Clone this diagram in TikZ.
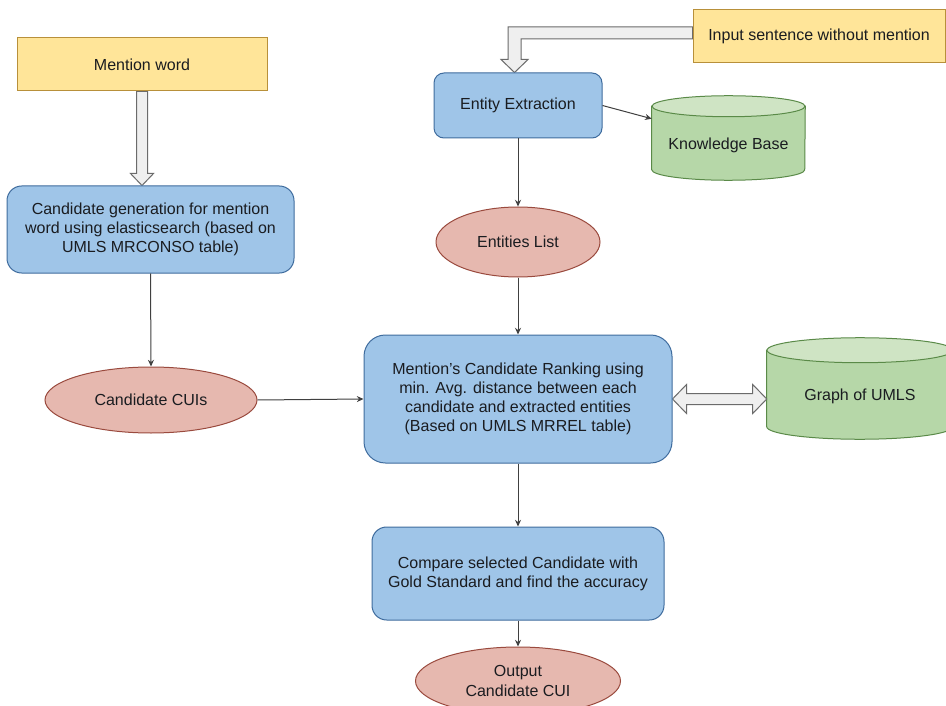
\documentclass[tikz,border=0pt]{standalone}
\usepackage{fontspec}
\setmainfont{Liberation Sans}
\usetikzlibrary{calc,backgrounds,arrows.meta,shapes.geometric}

\definecolor{txt}{HTML}{1A1C20}
\definecolor{yfill}{HTML}{FFE599}
\definecolor{ybord}{HTML}{B8903A}
\definecolor{bfill}{HTML}{9FC5E8}
\definecolor{bbord}{HTML}{3F6C9E}
\definecolor{pfill}{HTML}{E6B8AF}
\definecolor{pbord}{HTML}{9A4A3E}
\definecolor{gfill}{HTML}{B6D7A8}
\definecolor{gtop}{HTML}{CFE4C4}
\definecolor{gbord}{HTML}{5A8A48}
\definecolor{afill}{HTML}{EFEFEF}
\definecolor{agrey}{HTML}{6B6B6B}
\definecolor{lgrey}{HTML}{404040}

% cylinder drawn around a body node: #1 node, #2 height of the lid above the node,
% #3 lid half-height, #4 half-width
\newcommand\drawcyl[4]{%
  \begin{scope}[on background layer]
    \path let \p1=(#1.north west), \p2=(#1.south east) in
      [draw=gbord, fill=gfill, line width=0.75pt]
      (\x1,{\y1+#2-#3}) -- (\x1,{\y2+#3})
      arc[start angle=180, end angle=360, x radius=#4, y radius=#3]
      -- (\x2,{\y1+#2-#3}) -- cycle;
    \path let \p1=(#1.north west), \p2=(#1.south east) in
      [draw=gbord, fill=gtop, line width=0.75pt]
      ({(\x1+\x2)/2},{\y1+#2-#3}) ellipse[x radius=#4, y radius=#3];
  \end{scope}}

\begin{document}
\begin{tikzpicture}[x=0.75pt, y=0.75pt,
  every node/.style={font=\fontsize{12}{14.3}\selectfont, text=txt, align=center, inner sep=0pt},
  yellowbox/.style={draw=ybord, fill=yfill, line width=0.75pt},
  bluebox/.style={draw=bbord, fill=bfill, line width=0.75pt, rounded corners=#1},
  bluebox/.default=11pt,
  oval/.style={ellipse, draw=pbord, fill=pfill, line width=0.75pt},
  cylnode/.style={rectangle},
  conn/.style={draw=lgrey, line width=0.75pt, -{Stealth[length=5pt,width=4.5pt]}},
  fat/.style={draw=agrey, fill=afill, line width=0.75pt, line join=miter}
]
\useasboundingbox (0,0) rectangle (946,-706);

% boxes
\node[yellowbox, minimum width=187.5pt, minimum height=39.75pt] (mw) at (142,-64.5) {Mention word};
\node[yellowbox, minimum width=189pt, minimum height=39.75pt] (inp) at (819,-36.5) {Input sentence without mention};
\node[bluebox=11pt, minimum width=215.25pt, minimum height=65.25pt] (cg) at (150.5,-229.5)
  {Candidate generation for mention\\word using elasticsearch (based on\\UMLS MRCONSO table)};
\node[oval, minimum width=159pt, minimum height=49.5pt] (cuis) at (151,-400) {Candidate CUIs};
\node[bluebox=7.5pt, minimum width=126pt, minimum height=48.75pt] (ee) at (518,-105.5) {Entity Extraction};
\node[cylnode, minimum width=114.75pt, minimum height=52.5pt] (kb) at (728.5,-145) {Knowledge Base};
\node[oval, minimum width=123pt, minimum height=52.5pt] (el) at (518,-242) {Entities List};
\node[bluebox=16pt, minimum width=231pt, minimum height=96pt] (rank) at (518,-399)
  {Mention's Candidate Ranking using\\min. Avg. distance between each\\candidate and extracted entities\\(Based on UMLS MRREL table)};
\node[cylnode, minimum width=139.5pt, minimum height=64.5pt] (gu) at (860,-396) {Graph of UMLS};
\node[bluebox=11pt, minimum width=219pt, minimum height=69.75pt] (cmp) at (518,-573.5)
  {Compare selected Candidate with\\Gold Standard and find the accuracy};
\node[oval, minimum width=153.75pt, minimum height=51pt] (out) at (518,-681) {Output\\Candidate CUI};

% page background
\begin{scope}[on background layer]
  \fill[white] (0,0) rectangle (946,-706);
\end{scope}

% databases
\drawcyl{kb}{10.5pt}{7.875pt}{57.375pt}
\drawcyl{gu}{11.25pt}{9.375pt}{69.75pt}

% thin connectors
\draw[conn] (cg.south) -- (cuis.north);
\draw[conn] (cuis.east) -- (rank.west);
\draw[conn] (ee.south) -- (el.north);
\draw[conn] (el.south) -- (rank.north);
\draw[conn] (rank.south) -- (cmp.north);
\draw[conn] (cmp.south) -- (out.north);
\draw[conn] (ee.east) -- ($(kb.north west)+(0,-9)$);

% block arrows
\begin{scope}[on background layer]
  \draw[fat] ($(mw.south)+(-5.5,0)$) -- ($(mw.south |- cg.north)+(-5.5,12)$)
    -- ($(mw.south |- cg.north)+(-11.5,12)$) -- (mw.south |- cg.north)
    -- ($(mw.south |- cg.north)+(11.5,12)$) -- ($(mw.south |- cg.north)+(5.5,12)$)
    -- ($(mw.south)+(5.5,0)$) -- cycle;
  \draw[fat] ($(inp.west)+(0,9.5)$) -- ($(ee.north |- inp.west)+(-10,9.5)$)
    -- ($(ee.north)+(-10,13)$) -- ($(ee.north)+(-17,13)$) -- ($(ee.north)+(-3.5,0)$)
    -- ($(ee.north)+(10,13)$) -- ($(ee.north)+(3,13)$)
    -- ($(ee.north |- inp.west)+(3,-2.5)$) -- ($(inp.west)+(0,-2.5)$) -- cycle;
  \draw[fat] (rank.east) -- ($(rank.east)+(14,14.5)$) -- ($(rank.east)+(14,5.5)$)
    -- ($(rank.east -| gu.west)+(-14,5.5)$) -- ($(rank.east -| gu.west)+(-14,14.5)$)
    -- (rank.east -| gu.west)
    -- ($(rank.east -| gu.west)+(-14,-14.5)$) -- ($(rank.east -| gu.west)+(-14,-5.5)$)
    -- ($(rank.east)+(14,-5.5)$) -- ($(rank.east)+(14,-14.5)$) -- cycle;
\end{scope}
\end{tikzpicture}
\end{document}
